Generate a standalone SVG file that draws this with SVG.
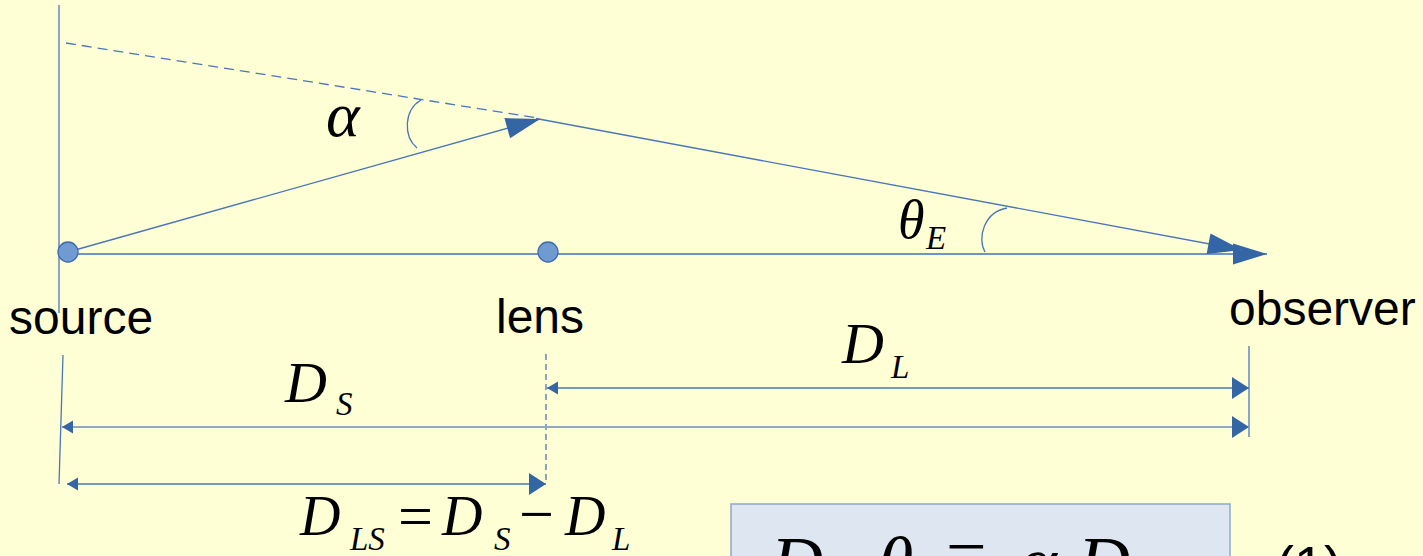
<svg xmlns="http://www.w3.org/2000/svg" width="1423" height="556" viewBox="0 0 1423 556">
  <style>
    .ln { stroke: #4a76b8; stroke-width: 1.3; fill: none; }
    .lnh { stroke: #6f95c6; stroke-width: 2; fill: none; }
    .lnl { stroke: #8fa9c0; stroke-width: 2; fill: none; }
    .dash { stroke-dasharray: 10 6; }
    .dot { fill: #6f9bd1; stroke: #3d69ae; stroke-width: 1.3; }
    .lbl { font-family: "Liberation Sans", Arial, sans-serif; font-size: 48px; fill: #000; }
    .m { font-family: "Liberation Serif", "Times New Roman", serif; font-style: italic; fill: #000; }
    .mu { font-family: "Liberation Serif", "Times New Roman", serif; fill: #000; }
  </style>
  <defs>
    <marker id="big" markerUnits="userSpaceOnUse" markerWidth="36" markerHeight="22" refX="34" refY="10.5" orient="auto" overflow="visible">
      <path d="M0,0 L34,10.5 L0,21 z" fill="#3465a4"/>
    </marker>
    <marker id="med" markerUnits="userSpaceOnUse" markerWidth="18" markerHeight="22" refX="17" refY="11" orient="auto" overflow="visible">
      <path d="M0,0 L17,11 L0,22 z" fill="#3465a4"/>
    </marker>
    <marker id="sml" markerUnits="userSpaceOnUse" markerWidth="12" markerHeight="14" refX="11" refY="6.5" orient="auto-start-reverse" overflow="visible">
      <path d="M0,0 L11,6.5 L0,13 z" fill="#3465a4"/>
    </marker>
  </defs>
  <rect x="0" y="0" width="1423" height="556" fill="#ffffd6"/>

  <g id="connectors">
    <line class="ln" x1="59" y1="5" x2="59" y2="313"/>
    <line class="ln dash" x1="66" y1="43" x2="538" y2="118"/>
    <line class="lnh" x1="68" y1="254" x2="1267" y2="254" marker-end="url(#big)"/>
    <line class="ln" x1="68" y1="252" x2="540" y2="119" marker-end="url(#big)"/>
    <line class="ln" x1="536" y1="118.5" x2="1242" y2="250" marker-end="url(#big)"/>
    <path class="ln" d="M421,100 C404,110 403,136 417,148"/>
    <path class="ln" d="M1007,208 C984,212 977,238 985,252"/>
    <line class="ln" x1="63" y1="355" x2="59" y2="484"/>
    <line class="ln" x1="546" y1="354" x2="546" y2="484" style="stroke-dasharray:6 4"/>
    <line class="ln" x1="1249" y1="346" x2="1249" y2="437"/>
    <line class="ln" x1="547" y1="388" x2="1249" y2="388" marker-start="url(#sml)" marker-end="url(#med)"/>
    <line class="lnl" x1="62" y1="427" x2="1249" y2="427" marker-start="url(#sml)" marker-end="url(#med)"/>
    <line class="ln" x1="67" y1="484" x2="546" y2="484" marker-start="url(#sml)" marker-end="url(#med)"/>
  </g>

  <g id="source">
    <circle class="dot" cx="68" cy="252" r="10"/>
    <text class="lbl" x="9" y="334">source</text>
  </g>
  <g id="lens">
    <circle class="dot" cx="548" cy="252" r="10"/>
    <text class="lbl" x="496" y="333">lens</text>
  </g>
  <g id="observer">
    <text class="lbl" x="1229" y="325">observer</text>
  </g>

  <g id="alpha-label">
    <text class="m" x="326" y="136" font-size="64">α</text>
  </g>
  <g id="thetaE-label">
    <text class="m" x="898" y="238" font-size="54">θ</text>
    <text class="m" x="926" y="249" font-size="33">E</text>
  </g>
  <g id="DS-label">
    <text class="m" x="285" y="402" font-size="58">D</text>
    <text class="m" x="336" y="415" font-size="33">S</text>
  </g>
  <g id="DL-label">
    <text class="m" x="842" y="363" font-size="58">D</text>
    <text class="m" x="891" y="378" font-size="33">L</text>
  </g>
  <g id="DLS-label">
    <text class="m" x="300" y="535" font-size="56">D</text>
    <text class="m" x="350" y="550" font-size="33">LS</text>
    <text class="mu" x="398" y="537" font-size="62">=</text>
    <text class="m" x="442" y="535" font-size="56">D</text>
    <text class="m" x="494" y="550" font-size="33">S</text>
    <text class="mu" x="519" y="535" font-size="62">−</text>
    <text class="m" x="565" y="535" font-size="56">D</text>
    <text class="m" x="612" y="550" font-size="33">L</text>
  </g>

  <g id="formula-box">
    <rect x="731" y="504" width="499" height="100" fill="#dde6f1" stroke="#8ca8cc" stroke-width="1.5"/>
    <text class="m" x="771" y="586" font-size="72">D</text>
    <text class="m" x="878" y="587" font-size="72">θ</text>
    <text class="mu" x="946" y="578" font-size="72">=</text>
    <text class="m" x="1019" y="586" font-size="72">α</text>
    <text class="m" x="1078" y="586" font-size="72">D</text>
    <text class="lbl" x="1276" y="584" style="font-size:54px">(1)</text>
  </g>
</svg>
